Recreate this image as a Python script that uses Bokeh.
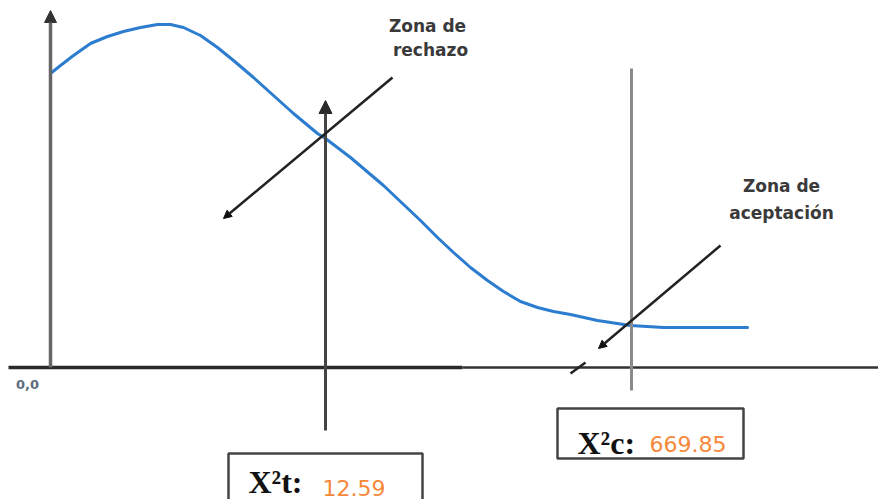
from bokeh.plotting import figure
from bokeh.models import Range1d, Arrow, NormalHead
from bokeh.core.properties import value
from bokeh.embed import file_html
from bokeh.resources import INLINE

# ---- data (schematic coordinates: origin "0,0" at the axes corner) ----
curve_x = [0, 10, 23, 40, 57, 73, 90, 107, 120, 133, 150, 167, 183, 203, 223, 243, 267,
           275, 300, 333, 370, 387, 403, 420, 437, 453, 470, 487, 503, 520, 547, 580, 613, 647, 697]
curve_y = [294, 302, 312, 324, 331, 336, 340, 343, 343, 340, 332, 320, 307, 290, 272, 254, 234,
           229, 210, 182, 147, 130, 115, 100, 87, 76, 66, 60, 56, 53, 47, 42, 40, 40, 40]

x_axis_thick = [-42, 412]
x_axis_thin = [412, 830]
y_axis = [0, 357]
break_x = [520, 535]
break_y = [-6, 5]

crit_t_x = 275            # X2 tabla
crit_t_span = [-63, 267]
crit_c_x = 581            # X2 calculado
crit_c_span = [-23, 299]

rej_arrow = [342, 290, 173, 149]     # x0, y0, x1, y1
acc_arrow = [670, 122, 548, 19]

zone_labels_x = [377, 380, 731, 731]
zone_labels_y = [342, 318, 182, 155]
zone_labels = ["Zona de", "rechazo", "Zona de", "aceptación"]

origin_label = ["0,0"]
origin_xy = [-23, -17]

box_left = [178, 507]
box_right = [372, 693]
box_top = [-86, -41]
box_bottom = [-150, -91]
stat_names = ["X\u00b2t:", "X\u00b2c:"]
stat_name_x = [198, 527]
stat_name_y = [-114, -75]
stat_values = ["12.59", "669.85"]
stat_value_x = [272, 599]
stat_value_y = [-120, -76]

# ---- figure ----
p = figure(width=878, height=499, x_range=Range1d(-50, 828), y_range=Range1d(-132, 367),
           output_backend="svg", toolbar_location=None,
           x_axis_location=None, y_axis_location=None, min_border=0)
p.outline_line_color = None
p.background_fill_color = "white"
p.grid.grid_line_color = None

# axes
p.line(x_axis_thick, [0, 0], line_color="#2a2a2a", line_width=3.5)
p.line(x_axis_thin, [0, 0], line_color="#333333", line_width=2.5)
p.add_layout(Arrow(end=NormalHead(size=12, fill_color="#333333", line_color="#333333"),
                   x_start=0, y_start=y_axis[0], x_end=0, y_end=y_axis[1],
                   line_color="#666666", line_width=3.5))
p.line(break_x, break_y, line_color="#222222", line_width=2.5)

# curve
p.line(curve_x, curve_y, line_color="#2C7CD0", line_width=3, line_join="round", line_cap="round")

# critical lines
p.add_layout(Arrow(end=NormalHead(size=13, fill_color="#2a2a2a", line_color="#2a2a2a"),
                   x_start=crit_t_x, y_start=crit_t_span[0], x_end=crit_t_x, y_end=crit_t_span[1],
                   line_color="#444444", line_width=3))
p.line([crit_c_x, crit_c_x], crit_c_span, line_color="#8a8a8a", line_width=3)

# zone pointer arrows
p.add_layout(Arrow(end=NormalHead(size=8, fill_color="#111111", line_color="#111111"),
                   x_start=rej_arrow[0], y_start=rej_arrow[1], x_end=rej_arrow[2], y_end=rej_arrow[3],
                   line_color="#222222", line_width=2.5))
p.add_layout(Arrow(end=NormalHead(size=8, fill_color="#111111", line_color="#111111"),
                   x_start=acc_arrow[0], y_start=acc_arrow[1], x_end=acc_arrow[2], y_end=acc_arrow[3],
                   line_color="#222222", line_width=2.5))

# zone labels
p.text(zone_labels_x, zone_labels_y, text=zone_labels, text_align="center", text_baseline="middle",
       text_font=value("DejaVu Sans"), text_font_style="bold", text_font_size="17px",
       text_color="#3a3a3a")
p.text([origin_xy[0]], [origin_xy[1]], text=origin_label, text_align="center", text_baseline="middle",
       text_font=value("DejaVu Sans"), text_font_style="bold", text_font_size="13px",
       text_color="#5d6b7a")

# statistic boxes
p.quad(left=box_left, right=box_right, top=box_top, bottom=box_bottom,
       fill_color="white", line_color="#444444", line_width=2.5)
p.text(stat_name_x, stat_name_y, text=stat_names, text_align="left", text_baseline="alphabetic",
       text_font=value("Liberation Serif"), text_font_style="bold", text_font_size="32px",
       text_color="#111111")
p.text(stat_value_x, stat_value_y, text=stat_values, text_align="left", text_baseline="alphabetic",
       text_font=value("DejaVu Sans"), text_font_size="22px", text_color="#F6883A")

open("out.html", "w").write(file_html(p, INLINE))
